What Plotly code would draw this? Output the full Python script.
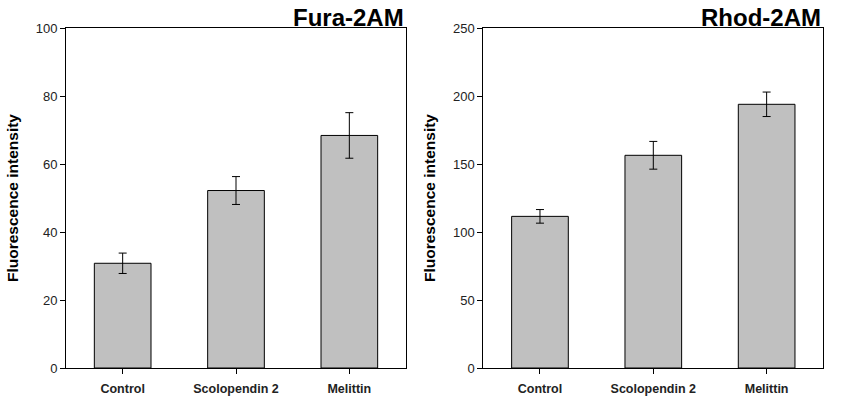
import plotly.graph_objects as go

categories = ["Control", "Scolopendin 2", "Melittin"]
fura_values = [30.8, 52.2, 68.4]
fura_errors = [3.0, 4.1, 6.7]
rhod_values = [111.5, 156.4, 193.9]
rhod_errors = [5.0, 10.2, 9.0]
fura_ticks = [0, 20, 40, 60, 80, 100]
rhod_ticks = [0, 50, 100, 150, 200, 250]

W, H = 849, 409
fig = go.Figure()

bar_style = dict(marker=dict(color="#c0c0c0", line=dict(color="black", width=1)), width=0.5, showlegend=False)
err_style = dict(type="data", visible=True, color="black", thickness=1, width=4)

fig.add_trace(go.Bar(x=categories, y=fura_values, error_y=dict(array=fura_errors, **err_style),
                     xaxis="x", yaxis="y", **bar_style))
fig.add_trace(go.Bar(x=categories, y=rhod_values, error_y=dict(array=rhod_errors, **err_style),
                     xaxis="x2", yaxis="y2", **bar_style))

y0, y1 = 1 - 368 / H, 1 - 28 / H
axis_common = dict(showline=True, linecolor="black", linewidth=1, mirror=True, showgrid=False,
                   zeroline=False, ticks="outside", ticklen=5, tickcolor="black", tickwidth=1,
                   automargin=False)
xfont = dict(family="Liberation Sans, Arial", size=12.5, color="#222")
yfont = dict(family="Liberation Sans, Arial", size=13, color="#222")

fig.update_layout(
    width=W, height=H,
    margin=dict(l=0, r=0, t=0, b=0),
    plot_bgcolor="white", paper_bgcolor="white",
    xaxis=dict(domain=[66 / W, 406 / W], anchor="y", range=[-0.5, 2.5], tickfont=xfont,
               ticklabelstandoff=4, **axis_common),
    yaxis=dict(domain=[y0, y1], anchor="x", range=[0, 100], tickvals=fura_ticks, tickfont=yfont,
               **axis_common),
    xaxis2=dict(domain=[483.3 / W, 823.3 / W], anchor="y2", range=[-0.5, 2.5], tickfont=xfont,
                ticklabelstandoff=4, **axis_common),
    yaxis2=dict(domain=[y0, y1], anchor="x2", range=[0, 250], tickvals=rhod_ticks, tickfont=yfont,
                **axis_common),
)

fig.update_xaxes(tickprefix="<b>", ticksuffix="</b>")

ann = []
for xr, title in [(406 / W, "Fura-2AM"), (823.3 / W, "Rhod-2AM")]:
    ann.append(dict(x=xr, y=y1, xref="paper", yref="paper", xanchor="right", yanchor="bottom",
                    text="<b>" + title + "</b>", showarrow=False, yshift=-5,
                    font=dict(family="Liberation Sans, Arial", size=24, color="black")))
for xc in [12 / W, 429 / W]:
    ann.append(dict(x=xc, y=(y0 + y1) / 2, xref="paper", yref="paper", xanchor="center", yanchor="middle",
                    text="<b>Fluorescence intensity</b>", textangle=-90, showarrow=False,
                    font=dict(family="Liberation Sans, Arial", size=15.5, color="black")))
fig.update_layout(annotations=ann)

fig.write_html("out.html", config={"displayModeBar": False},
               post_script="document.body.style.margin='0';document.body.style.overflow='hidden';")
